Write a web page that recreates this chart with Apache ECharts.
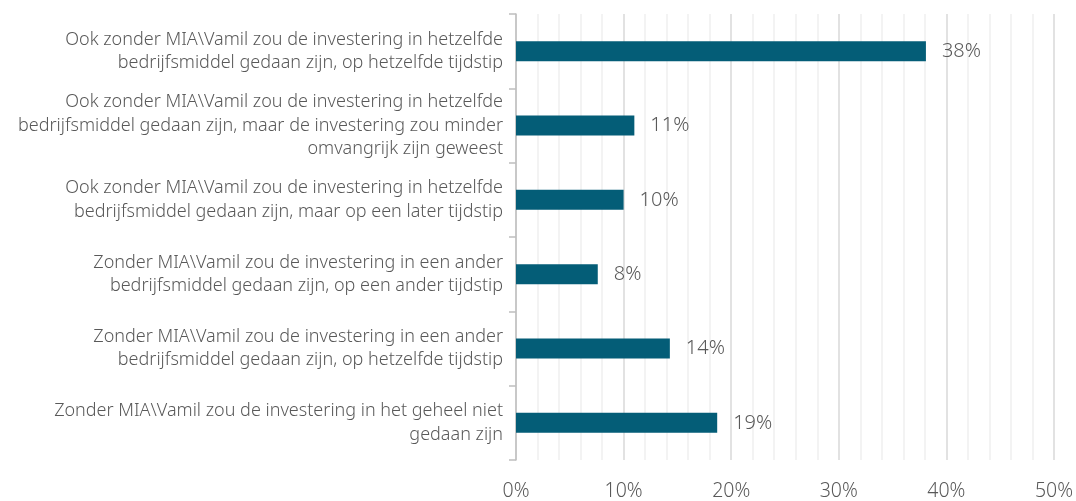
<!DOCTYPE html>
<html>
<head>
<meta charset="utf-8">
<script src="https://cdn.jsdelivr.net/npm/echarts@6/dist/echarts.min.js"></script>
<style>
  html, body { margin: 0; padding: 0; background: #fff; }
  #chart { width: 1076px; height: 501px; }
</style>
</head>
<body>
<div id="chart"></div>
<script>
// categories, top to bottom
const categories = [
  'Ook zonder MIA\\Vamil zou de investering in hetzelfde\nbedrijfsmiddel gedaan zijn, op hetzelfde tijdstip',
  'Ook zonder MIA\\Vamil zou de investering in hetzelfde\nbedrijfsmiddel gedaan zijn, maar de investering zou minder\nomvangrijk zijn geweest',
  'Ook zonder MIA\\Vamil zou de investering in hetzelfde\nbedrijfsmiddel gedaan zijn, maar op een later tijdstip',
  'Zonder MIA\\Vamil zou de investering in een ander\nbedrijfsmiddel gedaan zijn, op een ander tijdstip',
  'Zonder MIA\\Vamil zou de investering in een ander\nbedrijfsmiddel gedaan zijn, op hetzelfde tijdstip',
  'Zonder MIA\\Vamil zou de investering in het geheel niet\ngedaan zijn'
];
const values = [38.1, 11.0, 10.0, 7.6, 14.3, 18.7];

const textGrey = '#595959';
const font = 'Noto Sans';

var chart = echarts.init(document.getElementById('chart'));

chart.setOption({
  animation: false,
  grid: { left: 516, right: 19, top: 14, bottom: 39 },
  xAxis: {
    type: 'value',
    min: 0,
    max: 50,
    interval: 10,
    axisLine: { show: false },
    axisTick: { show: false },
    axisLabel: { formatter: '{value}%', color: textGrey, fontSize: 19.5, fontWeight: 300, fontFamily: font, margin: 21 },
    splitLine: { lineStyle: { color: '#d9d9d9', width: 1.5 } },
    minorTick: { show: false, splitNumber: 5 },
    minorSplitLine: { show: true, lineStyle: { color: '#efefef', width: 1.5 } }
  },
  yAxis: {
    type: 'category',
    inverse: true,
    data: categories,
    axisLine: { show: true, lineStyle: { color: '#bfbfbf', width: 1.5 } },
    axisTick: { show: true, length: 7, lineStyle: { color: '#bfbfbf', width: 1.5 } },
    axisLabel: { color: textGrey, fontSize: 18, fontWeight: 300, fontFamily: font, lineHeight: 23.5, margin: 13, align: 'right' },
    splitLine: { show: false }
  },
  series: [
    {
      type: 'bar',
      data: values,
      barWidth: 20,
      itemStyle: { color: '#045d77' },
      label: {
        show: true,
        position: 'right',
        distance: 16,
        color: textGrey,
        fontSize: 20,
        fontWeight: 300,
        fontFamily: font,
        formatter: p => Math.round(p.value) + '%'
      }
    }
  ]
});
</script>
</body>
</html>
